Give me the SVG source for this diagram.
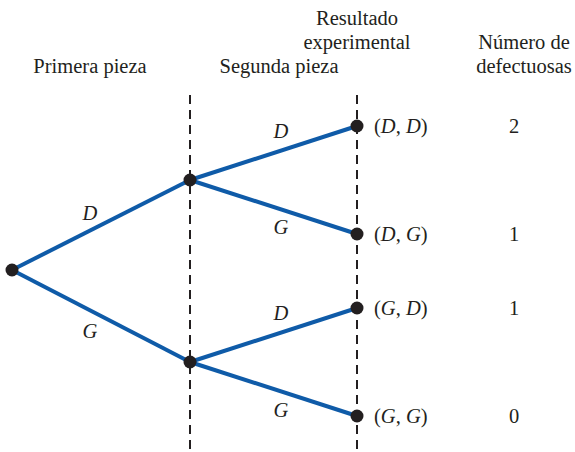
<svg xmlns="http://www.w3.org/2000/svg" width="575" height="452" viewBox="0 0 575 452">
<style>
text{font-family:"Liberation Serif","Times New Roman",serif;font-size:20.5px;fill:#231f20}
.h{text-anchor:middle}
.i{font-style:italic}
.br{stroke:#0f5ba8;stroke-width:4;fill:none}
.dash{stroke:#231f20;stroke-width:2;stroke-dasharray:9,6;fill:none}
.n{fill:#231f20}
</style>
<rect width="575" height="452" fill="#fff"/>
<g id="headers">
<text class="h" x="90" y="73">Primera pieza</text>
<text class="h" x="279" y="73">Segunda pieza</text>
<text class="h" x="357" y="25">Resultado</text>
<text class="h" x="357" y="49">experimental</text>
<text class="h" x="524" y="49">Número de</text>
<text class="h" x="524" y="73">defectuosas</text>
</g>
<g id="guides">
<line class="dash" x1="190" y1="95" x2="190" y2="452"/>
<line class="dash" x1="357" y1="95" x2="357" y2="452"/>
</g>
<g id="connectors">
<line class="br" x1="12" y1="270" x2="190" y2="180"/>
<line class="br" x1="12" y1="270" x2="190" y2="362"/>
<line class="br" x1="190" y1="180" x2="357" y2="126"/>
<line class="br" x1="190" y1="180" x2="357" y2="234"/>
<line class="br" x1="190" y1="362" x2="357" y2="308"/>
<line class="br" x1="190" y1="362" x2="357" y2="416"/>
<text class="h i" x="90" y="220">D</text>
<text class="h i" x="90" y="338">G</text>
<text class="h i" x="281" y="138">D</text>
<text class="h i" x="281" y="234">G</text>
<text class="h i" x="281" y="320">D</text>
<text class="h i" x="281" y="417">G</text>
</g>
<g id="root"><circle class="n" cx="12" cy="270" r="6.5"/></g>
<g id="n-D"><circle class="n" cx="190" cy="180" r="6.5"/></g>
<g id="n-G"><circle class="n" cx="190" cy="362" r="6.5"/></g>
<g id="leaf-DD"><circle class="n" cx="357" cy="126" r="6.5"/><text x="374" y="133">(<tspan class="i">D</tspan>, <tspan class="i">D</tspan>)</text><text class="h" x="514" y="133">2</text></g>
<g id="leaf-DG"><circle class="n" cx="357" cy="234" r="6.5"/><text x="374" y="241">(<tspan class="i">D</tspan>, <tspan class="i">G</tspan>)</text><text class="h" x="514" y="241">1</text></g>
<g id="leaf-GD"><circle class="n" cx="357" cy="308" r="6.5"/><text x="374" y="315">(<tspan class="i">G</tspan>, <tspan class="i">D</tspan>)</text><text class="h" x="514" y="315">1</text></g>
<g id="leaf-GG"><circle class="n" cx="357" cy="416" r="6.5"/><text x="374" y="423">(<tspan class="i">G</tspan>, <tspan class="i">G</tspan>)</text><text class="h" x="514" y="423">0</text></g>
</svg>
